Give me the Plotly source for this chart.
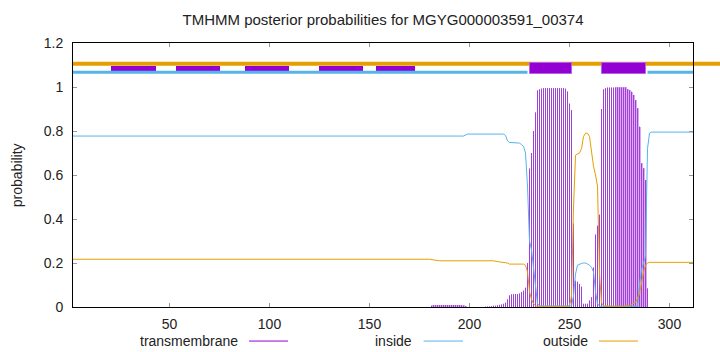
import plotly.graph_objects as go

# ---------------- data ----------------
x_range = [1.75, 311.75]
x_ticks = [50, 100, 150, 200, 250, 300]
y_ticks = [0, 0.2, 0.4, 0.6, 0.8, 1.0, 1.2]
y_tick_text = ["0", "0.2", "0.4", "0.6", "0.8", "1", "1.2"]

# transmembrane posterior probabilities (per residue; residues not listed are 0)
tm_pos = list(range(181, 199)) + list(range(208, 290))
tm_val = [0.005, 0.008, 0.009, 0.009, 0.009, 0.009, 0.009, 0.009, 0.009, 0.009,
          0.009, 0.009, 0.009, 0.009, 0.009, 0.008, 0.006, 0.004,
          # 208..
          0.002, 0.003, 0.003, 0.004, 0.006, 0.006, 0.008, 0.010, 0.012, 0.015,
          0.020, 0.035, 0.053, 0.058, 0.059, 0.059, 0.059, 0.062, 0.068, 0.075,
          0.088, 0.200, 0.630, 0.700, 0.800, 0.885, 0.985, 0.990, 0.993, 0.995,
          0.995, 0.995, 0.995, 0.995, 0.995, 0.995, 0.995, 0.995, 0.995, 0.995,
          0.993, 0.980, 0.925, 0.895, 0.380, 0.120, 0.115, 0.105, 0.093, 0.015,
          0.015, 0.015, 0.030, 0.045, 0.180, 0.330, 0.370, 0.420, 0.900, 0.990,
          0.995, 0.998, 0.998, 0.998, 0.998, 0.998, 0.998, 0.998, 0.998, 0.998,
          0.998, 0.990, 0.986, 0.979, 0.964, 0.940, 0.903, 0.820, 0.653, 0.630,
          0.577, 0.085]
# residues whose impulses appear in the lighter shade
light_ranges = [(181, 198), (273, 288)]

# inside probability (breakpoints)
inside_x = [1, 197, 199, 217, 218, 219, 220, 225, 226, 227, 228, 229, 230, 231,
            232, 233, 234, 235, 251, 252, 253, 254, 255, 256, 257, 258, 259,
            260, 261, 262, 263, 264, 265, 284, 285, 286, 287, 288, 289, 290,
            291, 312]
inside_y = [0.777, 0.777, 0.786, 0.786, 0.780, 0.755, 0.748, 0.745, 0.738,
            0.730, 0.700, 0.550, 0.300, 0.260, 0.180, 0.100, 0.015, 0.005,
            0.005, 0.050, 0.150, 0.190, 0.195, 0.198, 0.200, 0.200, 0.195,
            0.190, 0.180, 0.160, 0.070, 0.015, 0.003, 0.003, 0.100, 0.170,
            0.200, 0.230, 0.720, 0.790, 0.795, 0.795]

# outside probability (breakpoints)
outside_x = [1, 180, 185, 212, 215, 219, 220, 227, 228, 229, 230, 231, 232,
             233, 234, 250, 251, 252, 253, 254, 255, 256, 257, 258, 259, 260,
             261, 262, 263, 264, 265, 266, 267, 277, 280, 283, 285, 286, 287,
             288, 289, 290, 312]
outside_y = [0.217, 0.217, 0.210, 0.210, 0.205, 0.200, 0.195, 0.195, 0.190,
             0.160, 0.070, 0.035, 0.015, 0.006, 0.003, 0.003, 0.050, 0.450,
             0.690, 0.695, 0.700, 0.720, 0.775, 0.790, 0.790, 0.775, 0.710,
             0.640, 0.600, 0.550, 0.150, 0.020, 0.005, 0.003, 0.008, 0.020,
             0.060, 0.120, 0.160, 0.190, 0.200, 0.203, 0.203]

# topology band at the top
inside_segments = [(1, 229), (289, 312)]
tm_segments = [(230, 251), (266, 288)]
extra_tm_segments = [(20.75, 43), (53, 75), (87.5, 109.5), (124.5, 146.5), (153, 172.5)]

title_text = "TMHMM posterior probabilities for MGYG000003591_00374"
legend_names = ["transmembrane", "inside", "outside"]

# ---------------- styles ----------------
PURPLE = "#9400d3"
IMPULSE = "#a040d8"
LIGHT = "#dcaaf2"
BLUE = "#56b4e9"
ORANGE = "#e69f00"
FONT = "Liberation Sans"
TXT = "#222"

fig = go.Figure()

# light background for shaded impulse ranges
light_x, light_y = [], []
for p, v in zip(tm_pos, tm_val):
    if any(a <= p <= b for a, b in light_ranges):
        light_x.append(p)
        light_y.append(v)
fig.add_trace(go.Bar(x=light_x, y=light_y, width=1.0, marker=dict(color=LIGHT, line=dict(width=0)),
                     showlegend=False, hoverinfo="skip"))

# impulses (vertical lines from 0 to value)
imp_x, imp_y = [], []
for p, v in zip(tm_pos, tm_val):
    imp_x += [p, p, None]
    imp_y += [0, v, None]
fig.add_trace(go.Scatter(x=imp_x, y=imp_y, mode="lines", line=dict(color=IMPULSE, width=1),
                         showlegend=False, name="transmembrane"))

# inside / outside curves
fig.add_trace(go.Scatter(x=inside_x, y=inside_y, mode="lines", line=dict(color=BLUE, width=1),
                         showlegend=False, name="inside"))
fig.add_trace(go.Scatter(x=outside_x, y=outside_y, mode="lines", line=dict(color=ORANGE, width=1),
                         showlegend=False, name="outside"))

# topology band: extra small boxes (under the inside line)
fig.add_trace(go.Bar(x=[(s + e) / 2 for s, e in extra_tm_segments],
                     y=[1.097 - 1.069] * len(extra_tm_segments), base=1.069,
                     width=[e - s for s, e in extra_tm_segments],
                     marker=dict(color=PURPLE, line=dict(width=0)), showlegend=False, hoverinfo="skip"))

# inside segments
for s, e in inside_segments:
    fig.add_trace(go.Scatter(x=[s, e], y=[1.067, 1.067], mode="lines",
                             line=dict(color=BLUE, width=3), showlegend=False, hoverinfo="skip"))

# TM boxes on the band
fig.add_trace(go.Bar(x=[(s + e) / 2 for s, e in tm_segments],
                     y=[1.11 - 1.06] * len(tm_segments), base=1.06,
                     width=[e - s for s, e in tm_segments],
                     marker=dict(color=PURPLE, line=dict(width=1, color="#b564e0")),
                     showlegend=False, hoverinfo="skip"))

# outside band line (extends to right edge of the image)
fig.add_shape(type="line", xref="paper", yref="y", x0=0, x1=1.05, y0=1.106, y1=1.106,
              line=dict(color=ORANGE, width=4), layer="below")

# legend (gnuplot style: text then sample line)
leg_text_x = [0.2694, 0.5506, 0.8339]
leg_line_x = [(0.2839, 0.3468), (0.5655, 0.6290), (0.8484, 0.9113)]
leg_cols = [PURPLE, BLUE, ORANGE]
leg_y = -0.129
for name, tx, (l0, l1), c in zip(legend_names, leg_text_x, leg_line_x, leg_cols):
    fig.add_annotation(x=tx, y=leg_y, xref="paper", yref="paper", text=name, showarrow=False,
                       xanchor="right", yanchor="middle", font=dict(family=FONT, size=14, color=TXT))
    fig.add_shape(type="line", xref="paper", yref="paper", x0=l0, x1=l1, y0=leg_y, y1=leg_y,
                  line=dict(color=c, width=1))

# y axis title
fig.add_annotation(x=-0.09, y=0.5, xref="paper", yref="paper", text="probability", showarrow=False,
                   textangle=-90, xanchor="center", yanchor="middle",
                   font=dict(family=FONT, size=14, color=TXT))

fig.update_layout(
    width=720, height=352,
    margin=dict(l=73, r=27, t=43, b=45),
    paper_bgcolor="white", plot_bgcolor="white",
    barmode="overlay", bargap=0,
    showlegend=False,
    title=dict(text=title_text, x=0.532, xanchor="center", y=0.943, yanchor="middle",
               font=dict(family=FONT, size=15, color=TXT)),
    font=dict(family=FONT, size=14, color=TXT),
)
fig.update_xaxes(range=x_range, tickvals=x_ticks, ticks="inside", ticklen=4,
                 tickcolor="#999", showline=True, linecolor="black", linewidth=1, mirror="ticks",
                 showgrid=False, zeroline=False, tickfont=dict(family=FONT, size=14, color=TXT),
                 ticklabelstandoff=4)
fig.update_yaxes(range=[0, 1.2], tickvals=y_ticks, ticktext=y_tick_text,
                 ticks="inside", ticklen=4, tickcolor="#999", showline=True, linecolor="black",
                 linewidth=1, mirror="ticks", showgrid=False, zeroline=False,
                 tickfont=dict(family=FONT, size=14, color=TXT), ticklabelstandoff=6)

fig.write_html("out.html")
